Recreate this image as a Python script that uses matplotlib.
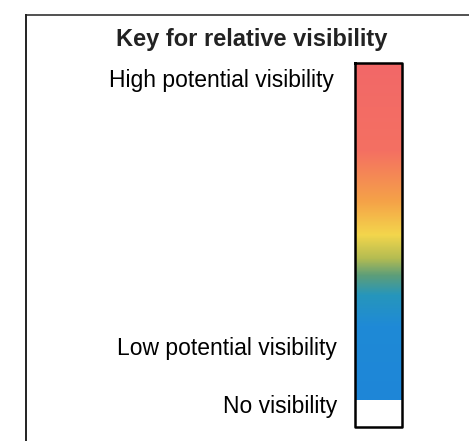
import matplotlib
matplotlib.use("Agg")
import matplotlib.pyplot as plt
import numpy as np
from matplotlib.colors import LinearSegmentedColormap

plt.rcParams["font.family"] = ["Liberation Sans", "DejaVu Sans"]

TITLE = "Key for relative visibility"
LABELS = ["High potential visibility", "Low potential visibility", "No visibility"]
# gradient stops, 0 = top (high) .. 1 = bottom (low)
STOP_POS = [0.0, 0.26, 0.41, 0.51, 0.58, 0.63, 0.69, 0.78, 1.0]
STOP_COLORS = ["#f26868", "#f47062", "#f5a248", "#f3d64c", "#b4bc52",
               "#5e9e78", "#2696bc", "#1f8ad6", "#1e86d8"]

W, H = 469, 441
fig = plt.figure(figsize=(W / 100, H / 100), dpi=100)
ax = fig.add_axes([0, 0, 1, 1])
ax.set_xlim(0, W)
ax.set_ylim(H, 0)
ax.axis("off")

# outer frame (only top and left visible)
ax.plot([26, W], [15, 15], color="#333333", lw=1.2)
ax.plot([26, 26], [15, H], color="#222222", lw=1.4)

cmap = LinearSegmentedColormap.from_list("vis", list(zip(STOP_POS, STOP_COLORS)))
grad = np.linspace(0, 1, 256).reshape(-1, 1)
x0, x1, y0, y1, y2 = 355, 402, 63, 400, 427
ax.imshow(grad, cmap=cmap, aspect="auto", extent=(x0, x1, y1, y0), zorder=1)
ax.plot([x0, x1, x1, x0, x0], [y0, y0, y2, y2, y0], color="black", lw=1.8, zorder=3)

ax.text(252, 46, TITLE, ha="center", va="baseline", fontsize=17, fontweight="bold",
        color="#222222")
ax.text(334, 87, LABELS[0], ha="right", va="baseline", fontsize=16.5)
ax.text(337, 355, LABELS[1], ha="right", va="baseline", fontsize=16.5)
ax.text(337, 413, LABELS[2], ha="right", va="baseline", fontsize=16.5)

fig.savefig("out.png", dpi=100)
